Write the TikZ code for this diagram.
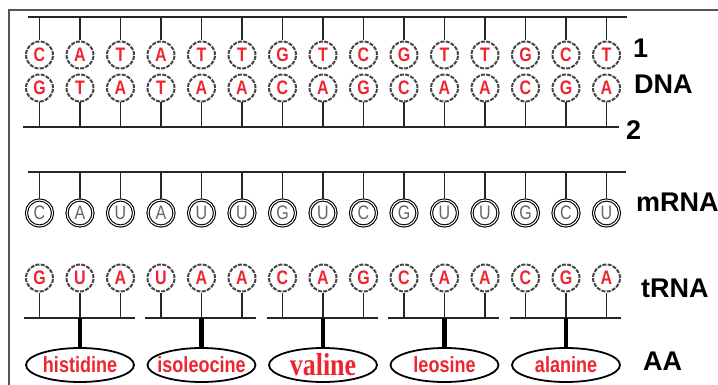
\documentclass[tikz,border=0pt]{standalone}
\usepackage{fontspec}
\setmainfont{Liberation Sans}
\newfontfamily\valinefont{Liberation Serif}
\usetikzlibrary{shapes.geometric}
\definecolor{basered}{RGB}{238,36,48}
\definecolor{framegray}{RGB}{85,85,85}
\newcommand\tallbase[1]{\scalebox{1}[1.22]{#1}}

\begin{document}
\begin{tikzpicture}[x=1pt,y=-1pt,
	dnabase/.style={circle,draw=black!72,dash pattern=on 4pt off 1.3pt,line width=2pt,minimum size=27pt,inner sep=0pt,text=basered,font=\fontsize{16}{16}\selectfont\bfseries},
	rnabase/.style={circle,draw=black,double=white,double distance=1pt,line width=1.1pt,minimum size=26pt,inner sep=0pt,text=black!60,font=\fontsize{16}{16}\selectfont},
	acid/.style={ellipse,draw,line width=1.8pt,minimum width=108pt,minimum height=34pt,inner sep=0pt,text=basered,font=\fontsize{18}{18}\selectfont\bfseries},
	strand/.style={line width=2.4pt,black!85},
	stem/.style={line width=1.8pt,black!85},
	side/.style={anchor=west,inner sep=0pt,font=\fontsize{27}{27}\selectfont\bfseries}]

	\useasboundingbox (0,0) rectangle (718,385);
	\draw [framegray,line width=2pt] (718,10) -- (9,10) -- (9,385);

	\coordinate (dnaone) at (28,17);
	\coordinate (dnaoneend) at (627,17);
	\coordinate (dnatwo) at (23,127);
	\coordinate (dnatwoend) at (619,127);
	\coordinate (mrna) at (28,172);
	\coordinate (mrnaend) at (626,172);
	\coordinate (trna) at (0,318);

	\draw [strand] (dnaone) -- (dnaoneend);
	\draw [strand] (dnatwo) -- (dnatwoend);
	\draw [strand] (mrna) -- (mrnaend);

	\foreach \b [count=\i] in {C,A,T,A,T,T,G,T,C,G,T,T,G,C,T}{
		\node [dnabase] (top\i) at ({39.5+40.5*(\i-1)},55) {\tallbase{\b}};
		\draw [stem] (top\i) -- (top\i |- dnaone);
	}
	\foreach \b [count=\i] in {G,T,A,T,A,A,C,A,G,C,A,A,C,G,A}{
		\node [dnabase] (bot\i) at ({39.5+40.5*(\i-1)},88) {\tallbase{\b}};
		\draw [stem] (bot\i) -- (bot\i |- dnatwo);
	}
	\foreach \b [count=\i] in {C,A,U,A,U,U,G,U,C,G,U,U,G,C,U}{
		\node [rnabase] (m\i) at ({39.5+40.5*(\i-1)},213) {\tallbase{\b}};
		\draw [stem] (m\i) -- (m\i |- mrna);
	}
	\foreach \b [count=\i] in {G,U,A,U,A,A,C,A,G,C,A,A,C,G,A}{
		\node [dnabase] (t\i) at ({39.5+40.5*(\i-1)},278) {\tallbase{\b}};
		\draw [stem] (t\i) -- (t\i |- trna);
	}

	\foreach \acid [count=\g] in {histidine,isoleocine,{\valinefont\fontsize{26}{26}\selectfont valine},leosine,alanine}{
		\pgfmathtruncatemacro\first{3*\g-2}
		\pgfmathtruncatemacro\mid{3*\g-1}
		\pgfmathtruncatemacro\last{3*\g}
		\coordinate (barl\g) at ([xshift=-16pt]t\first |- trna);
		\coordinate (barr\g) at ([xshift=14pt]t\last |- trna);
		\coordinate (bar\g) at (t\mid |- trna);
		\draw [strand,line width=1.6pt] (barl\g) -- (barr\g);
		\node [acid] (aa\g) at ([yshift=-47pt]bar\g) {\makebox[0pt]{\tallbase{\acid}}};
		\draw [black,line width=4.5pt] (bar\g) -- (aa\g);
	}

	\node [side] (one) at (633,48) {1};
	\node [side] (dna) at (634,84) {DNA};
	\node [side] (two) at (626,130) {2};
	\node [side] (mrnalabel) at (636,202) {mRNA};
	\node [side] (trnalabel) at (641,288) {tRNA};
	\node [side] (aalabel) at (643,361) {AA};
\end{tikzpicture}
\end{document}
